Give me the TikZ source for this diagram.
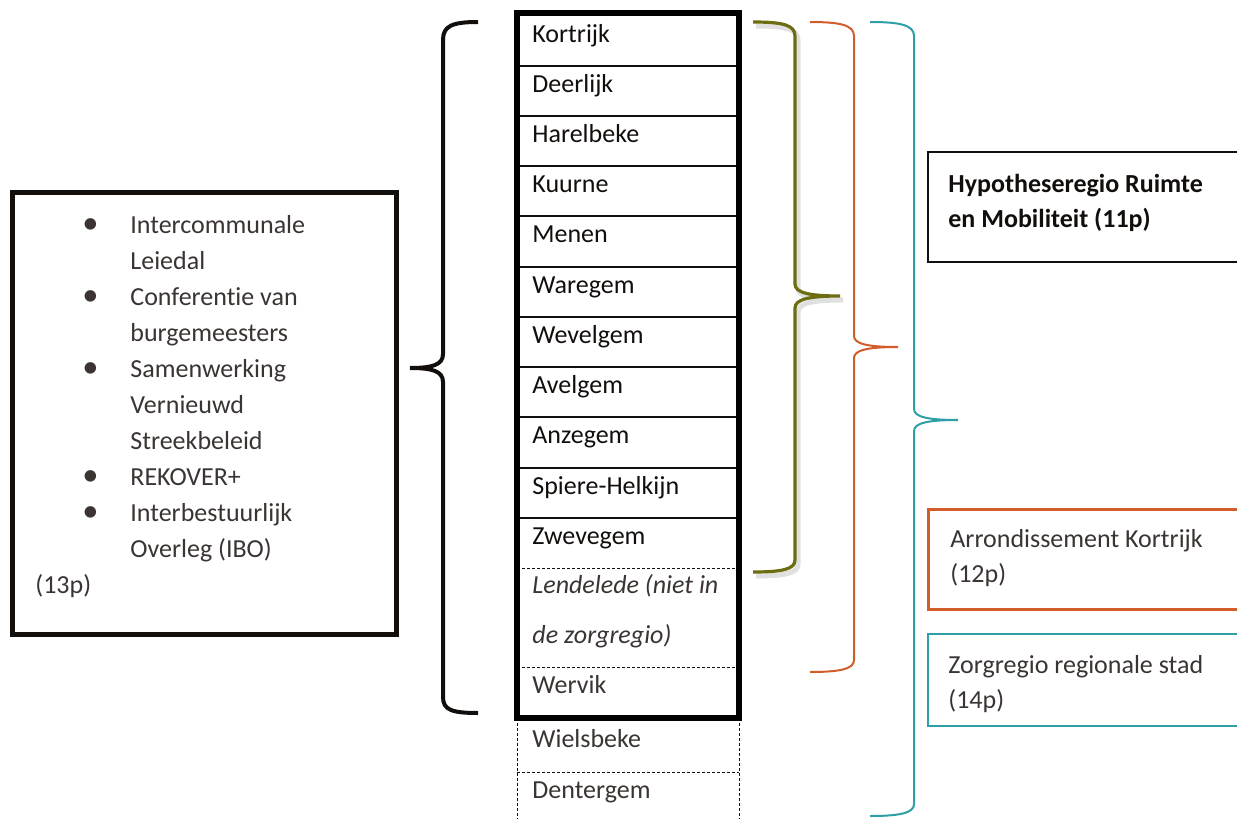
\documentclass[tikz,border=0pt]{standalone}
\usepackage{fontspec}
\setmainfont{Carlito}[Ligatures=NoCommon]
\usepackage{xcolor}
\definecolor{ink}{HTML}{120E0C}
\definecolor{inklight}{HTML}{3A3432}
\definecolor{olijf}{HTML}{6C6C10}
\definecolor{oranje}{HTML}{D35C2B}
\definecolor{blauwgroen}{HTML}{2E9EA7}

\begin{document}
\begin{tikzpicture}[x=0.5pt, y=-0.5pt,
  every node/.style={inner sep=0pt, font=\fontsize{13}{18}\selectfont},
  gemeente/.style={anchor=base west, text=ink},
  licht/.style={anchor=base west, text=inklight},
  stippel/.style={line width=0.5pt, dash pattern=on 1.5pt off 1pt}]
\useasboundingbox (0,0) rectangle (1237,819);
% Left box: overlegstructuren
\draw[line width=2.5pt, ink] (12,192) rectangle (396,634);
\node[licht] (overleg) at (35,233) {\begin{tabular}[t]{@{}p{47.5pt}@{}l@{}}
\hspace*{23.5pt}\scalebox{1.25}{\textbullet} & Intercommunale\\
 & Leiedal\\
\hspace*{23.5pt}\scalebox{1.25}{\textbullet} & Conferentie van\\
 & burgemeesters\\
\hspace*{23.5pt}\scalebox{1.25}{\textbullet} & Samenwerking\\
 & Vernieuwd\\
 & Streekbeleid\\
\hspace*{23.5pt}\scalebox{1.25}{\textbullet} & REKOVER+\\
\hspace*{23.5pt}\scalebox{1.25}{\textbullet} & Interbestuurlijk\\
 & Overleg (IBO)\\
\multicolumn{2}{@{}l@{}}{(13p)}
\end{tabular}};
% Black brace
\draw[line width=2pt, ink] (478,22) .. controls (452,22) and (443,26) .. (443,40) -- (443,354)
  .. controls (443,365) and (432,368) .. (410,368) .. controls (432,368) and (443,371) .. (443,382)
  -- (443,697) .. controls (443,710) and (452,713) .. (478,713);
% Column of municipalities
\draw[line width=1pt, ink] (517,66) -- (739,66) (517,116) -- (739,116) (517,166) -- (739,166)
  (517,216) -- (739,216) (517,267) -- (739,267) (517,317) -- (739,317) (517,367) -- (739,367)
  (517,417) -- (739,417) (517,468) -- (739,468) (517,518) -- (739,518);
\draw[stippel, ink] (517,568) -- (739,568) (517,667) -- (739,667);
\draw[stippel, ink] (517,718) -- (517,825) (739,718) -- (739,825) (517,772) -- (739,772);
\draw[line width=3pt] (517,13) rectangle (739,718);
% Names
\node[gemeente] (kortrijk) at (532,42) {Kortrijk};
\node[gemeente] (deerlijk) at (532,92) {Deerlijk};
\node[gemeente] (harelbeke) at (532,142) {Harelbeke};
\node[gemeente] (kuurne) at (532,192) {Kuurne};
\node[gemeente] (menen) at (532,242) {Menen};
\node[gemeente] (waregem) at (532,293) {Waregem};
\node[gemeente] (wevelgem) at (532,343) {Wevelgem};
\node[gemeente] (avelgem) at (532,393) {Avelgem};
\node[gemeente] (anzegem) at (532,443) {Anzegem};
\node[gemeente] (spiere) at (532,494) {Spiere-Helkijn};
\node[gemeente] (zwevegem) at (532,544) {Zwevegem};
\node[licht, font=\fontsize{13}{18}\selectfont\itshape] (lendelede) at (532,593) {Lendelede (niet in};
\node[licht, font=\fontsize{13}{18}\selectfont\itshape] (lendelede2) at (532,643) {de zorgregio)};
\node[licht] (wervik) at (532,693) {Wervik};
\node[licht] (wielsbeke) at (532,747) {Wielsbeke};
\node[licht] (dentergem) at (532,798) {Dentergem};
% Olive brace with shadow
\draw[line width=2.5pt, gray!40, opacity=0.6, shift={(3,4)}] (753,22) .. controls (783,22) and (795,25) .. (795,36) -- (795,284)
  .. controls (795,293) and (810,296) .. (840,296) .. controls (810,296) and (795,299) .. (795,308)
  -- (795,560) .. controls (795,569) and (783,572) .. (753,572);
\draw[line width=1.6pt, olijf] (753,22) .. controls (783,22) and (795,25) .. (795,36) -- (795,284)
  .. controls (795,293) and (810,296) .. (840,296) .. controls (810,296) and (795,299) .. (795,308)
  -- (795,560) .. controls (795,569) and (783,572) .. (753,572);
% Orange brace
\draw[line width=1pt, oranje] (810,22) .. controls (840,22) and (854,25) .. (854,36) -- (854,336)
  .. controls (854,344) and (868,347) .. (898,347) .. controls (868,347) and (854,350) .. (854,358)
  -- (854,660) .. controls (854,669) and (840,672) .. (810,672);
% Teal brace
\draw[line width=1pt, blauwgroen] (870,22) .. controls (900,22) and (914,25) .. (914,36) -- (914,409)
  .. controls (914,417) and (928,420) .. (958,420) .. controls (928,420) and (914,423) .. (914,431)
  -- (914,804) .. controls (914,813) and (900,816) .. (870,816);
% Right boxes
\draw[line width=1.2pt, ink] (928,152) rectangle (1250,262);
\node[gemeente, font=\fontsize{13}{18}\selectfont\bfseries] (hypothese) at (948,192) {Hypotheseregio Ruimte};
\node[gemeente, font=\fontsize{13}{18}\selectfont\bfseries] (hypothese2) at (948,227) {en Mobiliteit (11p)};
\draw[line width=1.5pt, oranje] (928,509) rectangle (1250,609);
\node[licht] (arrondissement) at (950,547) {Arrondissement Kortrijk};
\node[licht] (arrondissement2) at (950,582) {(12p)};
\draw[line width=1.2pt, blauwgroen] (928,634) rectangle (1250,726);
\node[licht] (zorgregio) at (948,673) {Zorgregio regionale stad};
\node[licht] (zorgregio2) at (948,708) {(14p)};
\end{tikzpicture}
\end{document}
